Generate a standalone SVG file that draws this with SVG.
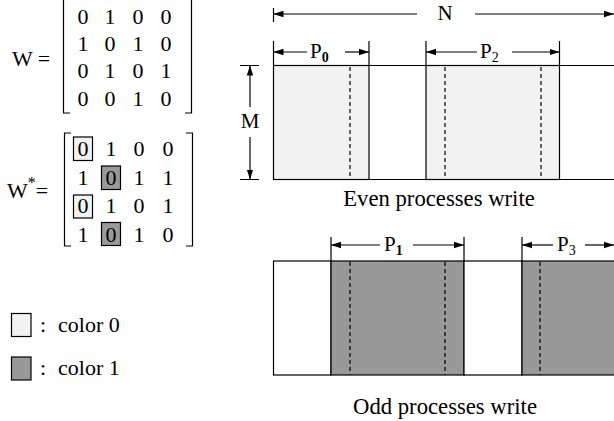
<svg xmlns="http://www.w3.org/2000/svg" width="614" height="421" viewBox="0 0 614 421" font-family="'Liberation Serif', 'Times New Roman', 'DejaVu Serif', serif">
<style>
text{font-family:'Liberation Serif','Times New Roman','DejaVu Serif',serif;fill:#000}
.t{font-size:22px}
.m{font-size:22px;text-anchor:middle}
.lb{font-size:21px;text-anchor:middle}
.cap{font-size:22.7px;text-anchor:middle}
.ln{stroke:#000;stroke-width:1.2;fill:none}
.dash{stroke:#000;stroke-width:1.2;stroke-dasharray:4,3;fill:none}
.light{fill:#f2f2f2;stroke:#000;stroke-width:1.2}
.dark{fill:#999;stroke:#000;stroke-width:1.2}
.white{fill:#fff;stroke:#000;stroke-width:1.2}
.arr{stroke:#000;stroke-width:1.2;fill:none;marker-end:url(#ah)}
</style>
<defs>
<marker id="ah" viewBox="0 0 10 8" refX="10" refY="4" markerWidth="10" markerHeight="8" markerUnits="userSpaceOnUse" orient="auto">
<path d="M0,0.8 L10,4 L0,7.2 z" fill="#000"/>
</marker>
</defs>
<rect width="614" height="421" fill="#fff"/>

<g id="matrixW">
<text class="t" x="12" y="66">W =</text>
<path class="ln" d="M70,-1 H63.5 V113 H70 M185,-1 H191.5 V113 H185"/>
<g class="m">
<text x="83" y="24">0</text><text x="110" y="24">1</text><text x="138" y="24">0</text><text x="166" y="24">0</text>
<text x="83" y="51">1</text><text x="110" y="51">0</text><text x="138" y="51">1</text><text x="166" y="51">0</text>
<text x="83" y="78">0</text><text x="110" y="78">1</text><text x="138" y="78">0</text><text x="166" y="78">1</text>
<text x="83" y="106">0</text><text x="110" y="106">0</text><text x="138" y="106">1</text><text x="166" y="106">0</text>
</g>
</g>

<g id="matrixWstar">
<text class="t" x="7" y="198">W<tspan style="font-size:16px" dy="-10">*</tspan><tspan dy="10">=</tspan></text>
<path class="ln" d="M71,133 H64.5 V246 H71 M186,133 H192.5 V246 H186"/>
<rect class="light" x="73.5" y="137" width="19" height="23.5"/>
<rect class="dark" x="101.5" y="166" width="19" height="23.5"/>
<rect class="light" x="73.5" y="195" width="19" height="23"/>
<rect class="dark" x="101.5" y="222.5" width="19" height="23"/>
<g class="m">
<text x="83" y="156">0</text><text x="111" y="156">1</text><text x="139" y="156">0</text><text x="168" y="156">0</text>
<text x="83" y="185">1</text><text x="111" y="185">0</text><text x="139" y="185">1</text><text x="168" y="185">1</text>
<text x="83" y="213">0</text><text x="111" y="213">1</text><text x="139" y="213">0</text><text x="168" y="213">1</text>
<text x="83" y="242">1</text><text x="111" y="242">0</text><text x="139" y="242">1</text><text x="168" y="242">0</text>
</g>
</g>

<g id="legend">
<rect class="light" x="11.5" y="313.5" width="19.5" height="23"/>
<text class="t" x="40" y="332">:</text>
<text class="t" x="58" y="332">color 0</text>
<rect class="dark" x="11.5" y="357" width="19.5" height="23"/>
<text class="t" x="40" y="375">:</text>
<text class="t" x="58" y="375">color 1</text>
</g>

<g id="evenBlock">
<rect class="light" x="273.5" y="65.5" width="95.5" height="114"/>
<rect class="light" x="426" y="65.5" width="133.5" height="114"/>
<path class="ln" d="M273.5,65.5 H614 M273.5,179.5 H614"/>
<path class="dash" d="M350,67 V179 M445,67 V179 M541,67 V179"/>
<text class="cap" x="439" y="206">Even processes write</text>
</g>

<g id="oddBlock">
<rect class="white" x="273.5" y="261" width="57.5" height="114"/>
<rect class="dark" x="331" y="261" width="133" height="114"/>
<rect class="white" x="464" y="261" width="58" height="114"/>
<rect class="dark" x="522" y="261" width="94" height="114"/>
<path class="dash" d="M350,262 V375 M445,262 V375 M540,262 V375"/>
<text class="cap" x="445" y="414">Odd processes write</text>
</g>

<g id="connectors">
<path class="ln" d="M273.5,8 V22"/>
<path class="arr" d="M417,14 H273.5"/>
<path class="arr" d="M475,14 H614"/>
<text class="lb" x="445" y="20">N</text>
<path class="ln" d="M273.5,41 V65 M369,41 V65"/>
<path class="arr" d="M307,52 H273.5"/>
<path class="arr" d="M345,52 H369"/>
<text x="310" y="58" style="font-size:21px">P<tspan style="font-size:14px;font-weight:bold" dy="4">0</tspan></text>
<path class="ln" d="M426,41 V65 M559.5,41 V65"/>
<path class="arr" d="M477,52 H426"/>
<path class="arr" d="M512,52 H559.5"/>
<text x="480" y="58" style="font-size:21px">P<tspan style="font-size:14px" dy="4">2</tspan></text>
<path class="ln" d="M240,65.5 H259 M240,179.5 H259"/>
<path class="arr" d="M250,107 V65.5"/>
<path class="arr" d="M250,137 V179.5"/>
<text class="lb" x="250" y="128">M</text>
<path class="ln" d="M331,237 V261 M464,237 V261"/>
<path class="arr" d="M380,245 H331"/>
<path class="arr" d="M413,245 H464"/>
<text x="384" y="251" style="font-size:21px">P<tspan style="font-size:14px;font-weight:bold" dy="4">1</tspan></text>
<path class="ln" d="M522,237 V261"/>
<path class="arr" d="M553,245 H522"/>
<path class="arr" d="M585,245 H614"/>
<text x="557" y="251" style="font-size:21px">P<tspan style="font-size:14px" dy="4">3</tspan></text>
</g>
</svg>
